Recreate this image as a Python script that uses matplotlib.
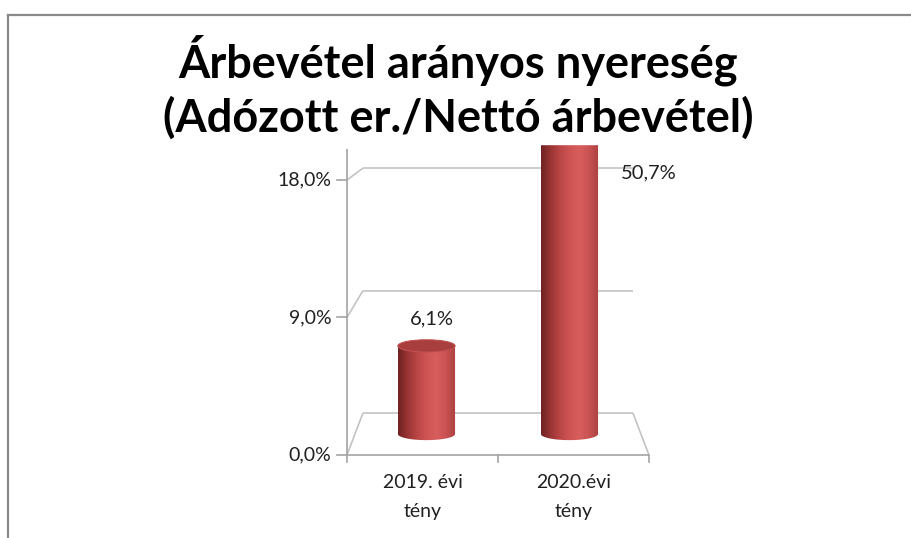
import numpy as np
import matplotlib
matplotlib.use("Agg")
import matplotlib.pyplot as plt
from matplotlib.path import Path
from matplotlib.patches import Ellipse, PathPatch
from matplotlib.colors import LinearSegmentedColormap
from matplotlib.lines import Line2D

# data
categories = ["2019. évi\ntény", "2020.évi\ntény"]
values = [6.1, 50.7]
value_labels = ["6,1%", "50,7%"]
yticks = [0, 9, 18]
ytick_labels = ["0,0%", "9,0%", "18,0%"]
y_max = 20
title_lines = ["Árbevétel arányos nyereség", "(Adózott er./Nettó árbevétel)"]

plt.rcParams['font.family'] = ['Lato', 'DejaVu Sans']

fig = plt.figure(figsize=(9.11, 5.38), dpi=100)
ax = fig.add_axes([0.3504, 0.1128, 0.3924, 0.6710])
ax.set_xlim(-0.75, 1.75)
ax.set_ylim(-3, 22)
ax.axis('off')

# simple perspective: front and back planes around the bar plane
def front(x, y):
    return 0.5 + 1.056 * (np.asarray(x) - 0.5), 1.058 * np.asarray(y) - 1.454

def back(x, y):
    return 0.5 + 0.944 * (np.asarray(x) - 0.5), 0.942 * np.asarray(y) + 1.454

n = len(categories)
x0, x1 = -0.5, n - 0.5
grid_c = '#c3c3c3'
axis_c = '#a3a3a3'
text_c = '#202020'

def seg(p, q, **kw):
    ax.plot([p[0], q[0]], [p[1], q[1]], clip_on=False, solid_capstyle='butt', **kw)

# floor
seg(front(x0, 0), front(x1, 0), color=axis_c, lw=1.2)
seg(back(x0, 0), back(x1, 0), color=grid_c, lw=1.2)
seg(front(x0, 0), back(x0, 0), color=grid_c, lw=1.2)
seg(front(x1, 0), back(x1, 0), color=grid_c, lw=1.2)

# gridlines on back wall and side wall
for t in yticks[1:]:
    seg(back(x0, t), back(x1, t), color=grid_c, lw=1.2)
    seg(front(x0, t), back(x0, t), color=grid_c, lw=1.2)

# value axis
seg(front(x0, 0), front(x0, y_max), color=axis_c, lw=1.2)
for t, lab in zip(yticks, ytick_labels):
    fx, fy = front(x0, t)
    ax.plot([fx - 0.07, fx], [fy, fy], color=axis_c, lw=1.2, clip_on=False)
    ax.text(fx - 0.11, fy, lab, ha='right', va='center', fontsize=14,
            color=text_c)

# category axis ticks and labels
for xt in np.arange(x0, x1 + 0.01, 1.0):
    fx, fy = front(xt, 0)
    ax.plot([fx, fx], [fy, fy - 0.5], color=axis_c, lw=1.2, clip_on=False)
for i, cat in enumerate(categories):
    fx, fy = front(i, 0)
    ax.text(fx, fy - 1.3, cat, ha='center', va='top', fontsize=14,
            color=text_c, linespacing=1.85)

# cylinders
cyl = LinearSegmentedColormap.from_list(
    'cyl', ['#6e2222', '#9a3434', '#bb4646', '#cf5555', '#d85e5e', '#c95252', '#ab4040'])
grad = np.linspace(0, 1, 256).reshape(1, -1)
w = 0.40
eh = 0.85
for i, v in enumerate(values):
    top = min(v, y_max)
    l, r = i - w / 2, i + w / 2
    th = np.linspace(np.pi, 2 * np.pi, 40)
    bx = i + w / 2 * np.cos(th)
    by = eh / 2 * np.sin(th)
    verts = [(l, top)] + list(zip(bx, by)) + [(r, top), (l, top)]
    patch = PathPatch(Path(verts), facecolor='none', edgecolor='none')
    ax.add_patch(patch)
    im = ax.imshow(grad, cmap=cyl, aspect='auto',
                   extent=[l, r, -eh, top], zorder=2, interpolation='bilinear')
    im.set_clip_path(patch)
    if v <= y_max:
        ax.add_patch(Ellipse((i, top), w, eh, facecolor='#a83e3e',
                             edgecolor='#c25050', lw=0.8, zorder=3))
        ax.text(i + 0.04, top + 1.9, value_labels[i], ha='center', va='center',
                fontsize=14.5, color=text_c)
    else:
        ax.text(i + 0.36, top - 1.9, value_labels[i], ha='left', va='center',
                fontsize=14.5, color=text_c)

# title, two lines placed on their baselines
for k, line in enumerate(title_lines):
    fig.text(0.503, 1 - (77 + 55 * k) / 538, line, ha='center', va='baseline',
             fontsize=32.5, fontweight='bold', color='black')

# chart frame
fig.add_artist(Line2D([8 / 911, 1], [1 - 15 / 538, 1 - 15 / 538],
                      transform=fig.transFigure, color='#8a8a8a', lw=1.6))
fig.add_artist(Line2D([8 / 911, 8 / 911], [0, 1 - 15 / 538],
                      transform=fig.transFigure, color='#8a8a8a', lw=1.6))

fig.savefig('out.png', dpi=100)
